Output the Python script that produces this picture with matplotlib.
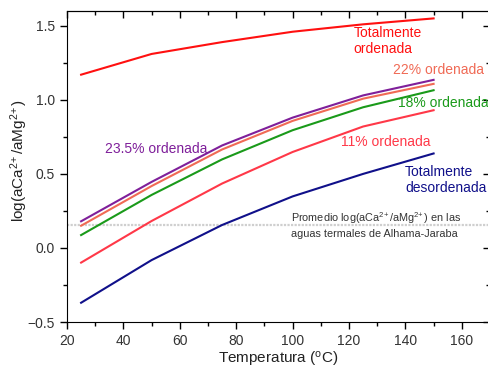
import matplotlib
matplotlib.use('Agg')
from matplotlib import pyplot as plt
from matplotlib.ticker import MultipleLocator

plt.rcParams['font.family'] = ['Liberation Sans', 'DejaVu Sans']
plt.rcParams['mathtext.fontset'] = 'custom'
plt.rcParams['mathtext.rm'] = 'Liberation Sans'
plt.rcParams['mathtext.it'] = 'Liberation Sans:italic'
plt.rcParams['mathtext.bf'] = 'Liberation Sans:bold'

TEMPS = [25, 50, 75, 100, 125, 150]
TOTAL_ORD = [1.17, 1.31, 1.39, 1.46, 1.51, 1.55]
ORD_235 = [0.18, 0.446, 0.692, 0.88, 1.03, 1.135]
ORD_22 = [0.15, 0.418, 0.665, 0.858, 1.008, 1.108]
ORD_18 = [0.087, 0.358, 0.598, 0.795, 0.95, 1.065]
ORD_11 = [-0.099, 0.182, 0.435, 0.648, 0.82, 0.93]
TOTAL_DES = [-0.37, -0.082, 0.155, 0.348, 0.5, 0.638]
PROMEDIO = 0.158

SERIES = [
    (TOTAL_ORD, '#ff1010'),
    (ORD_235, '#7f1f9a'),
    (ORD_22, '#f06a55'),
    (ORD_18, '#1a9a1a'),
    (ORD_11, '#ff3848'),
    (TOTAL_DES, '#10108a'),
]

RATIO = 'log(aCa$^{2\\!+}$/aMg$^{2\\!+}$)'


def ticks(axis, direction, **kw):
    axis.tick_params(which='both', direction=direction, width=1, **kw)
    axis.tick_params(which='major', length=5)
    axis.tick_params(which='minor', length=3)


def main():
    fig = plt.figure(figsize=(4.89, 3.67), dpi=100)
    ax = fig.add_axes([67 / 489, 45 / 367, 423 / 489, 311 / 367])

    ax.axhline(PROMEDIO, color='#cfcfcf', lw=1.6, ls=(0, (1, 0.6)), zorder=1)
    for vals, color in SERIES:
        ax.plot(TEMPS, vals, color=color, lw=1.5, zorder=2)

    ax.set_xlim(20, 170)
    ax.set_ylim(-0.5, 1.6)
    ax.xaxis.set_major_locator(MultipleLocator(20))
    ax.xaxis.set_minor_locator(MultipleLocator(10))
    ax.yaxis.set_major_locator(MultipleLocator(0.5))
    ax.yaxis.set_minor_locator(MultipleLocator(0.25))
    ticks(ax, 'out', labelcolor='#333333', labelsize=10)

    top = ax.secondary_xaxis('top')
    top.xaxis.set_major_locator(MultipleLocator(20))
    top.xaxis.set_minor_locator(MultipleLocator(10))
    ticks(top, 'in', labeltop=False)
    right = ax.secondary_yaxis('right')
    right.yaxis.set_major_locator(MultipleLocator(0.5))
    right.yaxis.set_minor_locator(MultipleLocator(0.25))
    ticks(right, 'in', labelright=False)

    ax.set_xlabel('Temperatura ($^{\\rm o}$C)', fontsize=11, color='#222222')
    ax.xaxis.set_label_coords(0.5, -0.119)
    ax.xaxis.label.set_va('center')
    ax.set_ylabel(RATIO, fontsize=11, color='#222222')
    ax.yaxis.set_label_coords(-0.1135, 0.52)
    ax.yaxis.label.set_va('center')

    ax.text(121.7, 1.397, 'Totalmente\nordenada', color='#ff1010', fontsize=10,
            ha='left', va='center', linespacing=1.15)
    ax.text(135.5, 1.203, '22% ordenada', color='#f06a55', fontsize=10,
            ha='left', va='center')
    ax.text(137.3, 0.978, '18% ordenada', color='#1a9a1a', fontsize=10,
            ha='left', va='center')
    ax.text(117.2, 0.716, '11% ordenada', color='#ff3848', fontsize=10,
            ha='left', va='center')
    ax.text(139.9, 0.457, 'Totalmente\ndesordenada', color='#10108a', fontsize=10,
            ha='left', va='center', linespacing=1.15)
    ax.text(33.5, 0.671, '23.5% ordenada', color='#7f1f9a', fontsize=10,
            ha='left', va='center')
    ax.text(99.6, 0.157, 'Promedio ' + RATIO + ' en las\n'
            'aguas termales de Alhama-Jaraba', color='#333333', fontsize=7.8,
            ha='left', va='center', linespacing=1.35)

    fig.savefig('out.png', dpi=100)


if __name__ == '__main__':
    main()
